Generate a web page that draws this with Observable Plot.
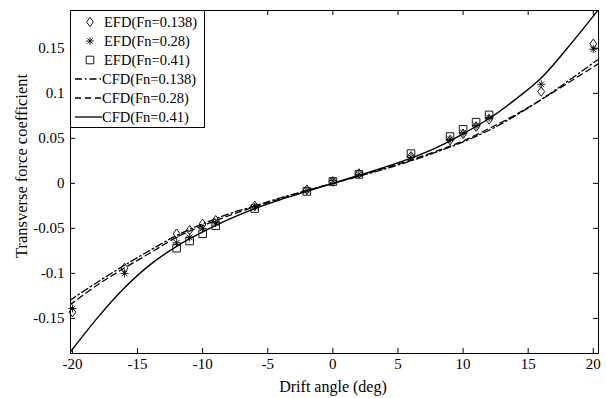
<!DOCTYPE html>
<html><head><meta charset="utf-8">
<script src="https://cdn.jsdelivr.net/npm/d3@7"></script>
<script src="https://cdn.jsdelivr.net/npm/@observablehq/plot@0.6"></script>
<style>body{margin:0;background:#fff} svg{display:block}</style>
</head><body><div id="chart"></div>
<script>
// ---- Data ----
const efdAngles = [-20, -16, -12, -11, -10, -9, -6, -2, 0, 2, 6, 9, 10, 11, 12, 16, 20];
const efd138 = [-0.143, -0.094, -0.056, -0.052, -0.045, -0.041, -0.025, -0.007, 0.002, 0.011, 0.030, 0.048, 0.055, 0.063, 0.071, 0.102, 0.155];
const efd028 = [-0.139, -0.100, -0.066, -0.060, -0.050, -0.044, -0.026, -0.008, 0.003, 0.010, 0.029, 0.049, 0.056, 0.064, 0.073, 0.110, 0.149];
const efdAngles041 = [-12, -11, -10, -9, -6, -2, 0, 2, 6, 9, 10, 11, 12];
const efd041 = [-0.072, -0.064, -0.056, -0.047, -0.028, -0.009, 0.002, 0.010, 0.033, 0.052, 0.060, 0.068, 0.076];

const cfdAngles = [-20.2, -18, -16, -14, -12, -10, -8, -6, -4, -2, 0, 2, 4, 6, 8, 10, 12, 14, 16, 18, 20.4];
const cfd138 = [-0.130, -0.109, -0.091, -0.074, -0.058, -0.045, -0.034, -0.025, -0.016, -0.008, 0, 0.008, 0.016, 0.025, 0.035, 0.046, 0.059, 0.075, 0.093, 0.113, 0.138];
const cfd028 = [-0.135, -0.112, -0.094, -0.077, -0.060, -0.047, -0.036, -0.026, -0.017, -0.008, 0, 0.008, 0.017, 0.026, 0.036, 0.047, 0.061, 0.076, 0.093, 0.111, 0.133];
const cfd041 = [-0.188, -0.148, -0.116, -0.090, -0.070, -0.054, -0.040, -0.028, -0.018, -0.009, 0, 0.009, 0.018, 0.028, 0.040, 0.055, 0.072, 0.093, 0.117, 0.150, 0.193];

const xTicks = [-20, -15, -10, -5, 0, 5, 10, 15, 20];
const xTickLabels = ["-20", "-15", "-10", "-5", "0", "5", "10", "15", "20"];
const yTicks = [-0.15, -0.1, -0.05, 0, 0.05, 0.1, 0.15];
const yTickLabels = ["-0.15", "-0.1", "-0.05", "0", "0.05", "0.1", "0.15"];

const legendLabels = ["EFD(Fn=0.138)", "EFD(Fn=0.28)", "EFD(Fn=0.41)", "CFD(Fn=0.138)", "CFD(Fn=0.28)", "CFD(Fn=0.41)"];
const xLabel = "Drift angle (deg)";
const yLabel = "Transverse force coefficient";

// ---- Build tables ----
const pts = (xs, ys) => xs.map((x, i) => ({x, y: ys[i]}));

// custom open markers (MATLAB style)
const rad = s => Math.sqrt(s / Math.PI);
const symDiamond = {draw(c, s) { const r = rad(s); c.moveTo(0, -r * 1.25); c.lineTo(r * 0.9, 0); c.lineTo(0, r * 1.25); c.lineTo(-r * 0.9, 0); c.closePath(); }};
const symStar = {draw(c, s) { const r = rad(s), d = r * 0.7071; c.moveTo(-r, 0); c.lineTo(r, 0); c.moveTo(0, -r); c.lineTo(0, r); c.moveTo(-d, -d); c.lineTo(d, d); c.moveTo(-d, d); c.lineTo(d, -d); }};
const symSquare = {draw(c, s) { const r = rad(s); c.rect(-r, -r, 2 * r, 2 * r); }};

const W = 606, H = 398, mL = 70, mR = 8, mT = 10, mB = 45;
const plotW = W - mL - mR, plotH = H - mT - mB;
const font = "'Liberation Serif', 'Times New Roman', serif";
const dashDot = "7,3,1.5,3";
const dashed = "6,4";

const svg = Plot.plot({
  width: W, height: H,
  marginLeft: mL, marginRight: mR, marginTop: mT, marginBottom: mB,
  style: {fontFamily: font, fontSize: "15px", color: "#000", background: "#fff"},
  x: {domain: [-20.15, 20.4]},
  y: {domain: [-0.189, 0.192]},
  marks: [
    Plot.line(pts(cfdAngles, cfd138), {x: "x", y: "y", curve: "catmull-rom", stroke: "#000", strokeWidth: 1.3, strokeDasharray: dashDot, clip: true}),
    Plot.line(pts(cfdAngles, cfd028), {x: "x", y: "y", curve: "catmull-rom", stroke: "#000", strokeWidth: 1.3, strokeDasharray: dashed, clip: true}),
    Plot.line(pts(cfdAngles, cfd041), {x: "x", y: "y", curve: "catmull-rom", stroke: "#000", strokeWidth: 1.4, clip: true}),
    Plot.dot(pts(efdAngles, efd138), {x: "x", y: "y", symbol: symDiamond, r: 3.8, fill: "none", stroke: "#000", strokeWidth: 0.9}),
    Plot.dot(pts(efdAngles, efd028), {x: "x", y: "y", symbol: symStar, r: 4, fill: "none", stroke: "#000", strokeWidth: 0.9}),
    Plot.dot(pts(efdAngles041, efd041), {x: "x", y: "y", symbol: symSquare, r: 3.8, fill: "none", stroke: "#000", strokeWidth: 0.9}),
    Plot.frame({stroke: "#000", strokeWidth: 1}),
    // inward ticks on all four sides
    Plot.tickX(xTicks, {x: d => d, insetTop: plotH - 5, stroke: "#000"}),
    Plot.tickX(xTicks, {x: d => d, insetBottom: plotH - 5, stroke: "#000"}),
    Plot.tickY(yTicks, {y: d => d, insetRight: plotW - 5, stroke: "#000"}),
    Plot.tickY(yTicks, {y: d => d, insetLeft: plotW - 5, stroke: "#000"}),
    Plot.axisX(xTicks, {anchor: "bottom", tickSize: 0, tickPadding: 5, label: null, fontSize: 15,
      tickFormat: d => xTickLabels[xTicks.indexOf(d)]}),
    Plot.axisY(yTicks, {anchor: "left", tickSize: 0, tickPadding: 6, label: null, fontSize: 15,
      tickFormat: d => yTickLabels[yTicks.indexOf(d)]})
  ]
});

const s = d3.select(svg);
// axis titles
s.append("text").attr("x", 333).attr("y", 392).attr("text-anchor", "middle")
  .attr("font-family", font).attr("font-size", 16).attr("fill", "#000").text(xLabel);
s.append("text").attr("transform", "translate(21,166) rotate(-90)").attr("text-anchor", "middle")
  .attr("dominant-baseline", "central")
  .attr("font-family", font).attr("font-size", 16.5).attr("fill", "#000").text(yLabel);

// legend
const lg = s.append("g").attr("text-anchor", "start");
lg.append("rect").attr("x", 70.5).attr("y", 10.5).attr("width", 134).attr("height", 117)
  .attr("fill", "#fff").attr("stroke", "#000").attr("stroke-width", 1);
const syms = [symDiamond, symStar, symSquare];
const dashes = [dashDot, dashed, null];
legendLabels.forEach((lab, i) => {
  const cy = 22 + i * 19;
  if (i < 3) {
    lg.append("path").attr("transform", `translate(90,${cy})`)
      .attr("d", d3.symbol(syms[i], Math.PI * 3.8 * 3.8)())
      .attr("fill", "none").attr("stroke", "#000").attr("stroke-width", 0.9);
  } else {
    const ln = lg.append("line").attr("x1", 75).attr("x2", 102).attr("y1", cy).attr("y2", cy)
      .attr("stroke", "#000").attr("stroke-width", 1.3);
    if (dashes[i - 3]) ln.attr("stroke-dasharray", dashes[i - 3]);
  }
  lg.append("text").attr("x", i < 3 ? 104 : 102).attr("y", cy).attr("dominant-baseline", "central")
    .attr("text-anchor", "start")
    .attr("font-family", font).attr("font-size", 14.5).attr("fill", "#000").text(lab);
});

document.getElementById("chart").appendChild(svg);
</script>
</body></html>
